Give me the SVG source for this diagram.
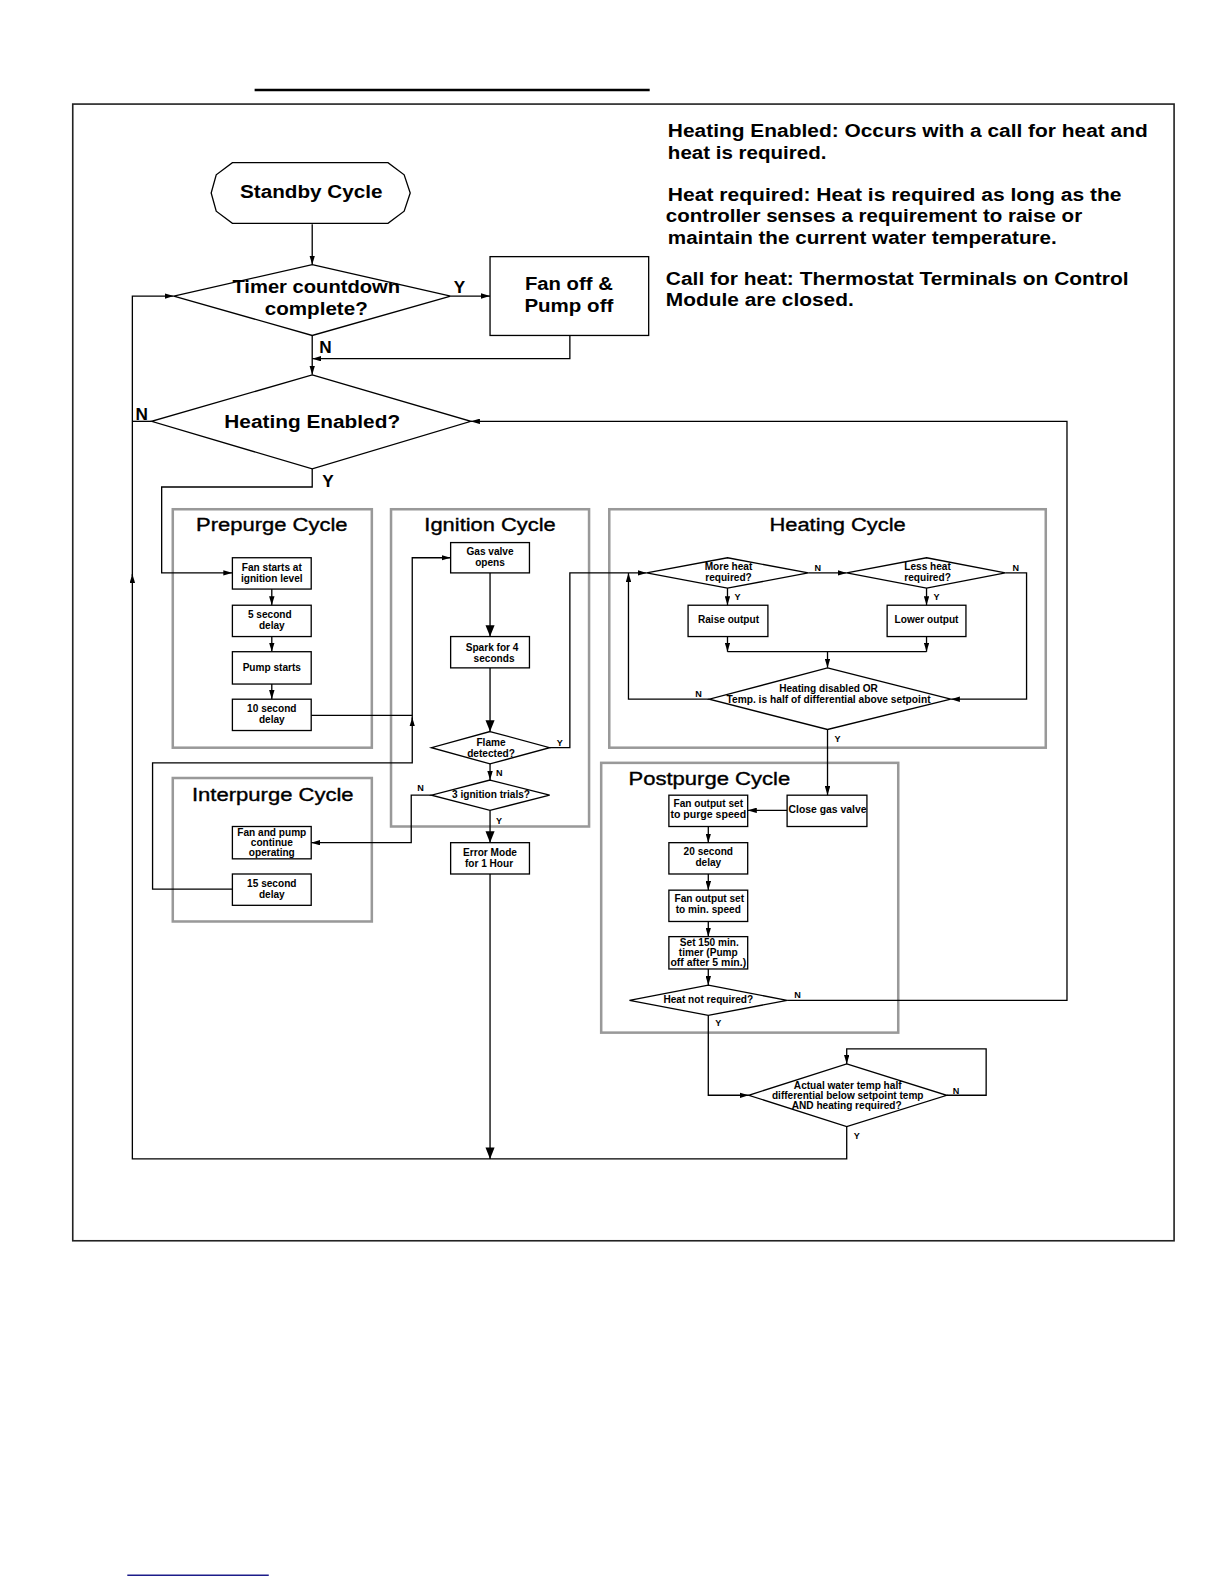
<svg xmlns="http://www.w3.org/2000/svg" width="1224" height="1584" viewBox="0 0 1224 1584">
<defs>
<marker id="a" viewBox="0 0 10 6" refX="10" refY="3" markerWidth="9" markerHeight="5.5" markerUnits="userSpaceOnUse" orient="auto"><path d="M0,0 L10,3 L0,6 z" fill="#000"/></marker>
<marker id="b" viewBox="0 0 10 8" refX="10" refY="4" markerWidth="13" markerHeight="9" markerUnits="userSpaceOnUse" orient="auto"><path d="M0,0 L10,4 L0,8 z" fill="#000"/></marker>
</defs>
<style>
text{font-family:"Liberation Sans",Arial,sans-serif;font-weight:bold;fill:#000}
.big{font-size:18px;text-anchor:middle}
.title{font-size:18px;font-weight:normal;text-anchor:middle;stroke:#000;stroke-width:0.35}
.note{font-size:18px}
.s{font-size:10px;text-anchor:middle}
.lbl{font-size:17px}
.sl{font-size:9px}
.node{fill:#fff;stroke:#000;stroke-width:1.3}
.grp{fill:none;stroke:#999;stroke-width:2.5}
.c{fill:none;stroke:#000;stroke-width:1.3}
</style>
<rect width="1224" height="1584" fill="#fff"/>
<g transform="scale(1.0104)">
<line x1="252" y1="89" x2="643" y2="89" stroke="#000" stroke-width="2.5"/>
<rect x="72" y="103" width="1090" height="1125" fill="none" stroke="#222" stroke-width="1.6"/>
<line x1="126" y1="1559" x2="266" y2="1559" stroke="#1c1c8a" stroke-width="1.6"/>

<g id="notes">
<text class="note" x="661" y="136" textLength="475" lengthAdjust="spacingAndGlyphs">Heating Enabled:  Occurs with a call for heat and</text>
<text class="note" x="661" y="157" textLength="157" lengthAdjust="spacingAndGlyphs">heat is required.</text>
<text class="note" x="661" y="199" textLength="449" lengthAdjust="spacingAndGlyphs">Heat required:  Heat is required as long as the</text>
<text class="note" x="659" y="220" textLength="412" lengthAdjust="spacingAndGlyphs">controller senses a requirement to raise or</text>
<text class="note" x="661" y="241" textLength="385" lengthAdjust="spacingAndGlyphs">maintain the current water temperature.</text>
<text class="note" x="659" y="282" textLength="458" lengthAdjust="spacingAndGlyphs">Call for heat:  Thermostat Terminals on Control</text>
<text class="note" x="659" y="303" textLength="186" lengthAdjust="spacingAndGlyphs">Module are closed.</text>
</g>

<g id="groups">
<rect class="grp" x="171" y="504" width="197" height="236"/>
<text class="title" x="269" y="526" textLength="150" lengthAdjust="spacingAndGlyphs">Prepurge Cycle</text>
<rect class="grp" x="171" y="770" width="197" height="142"/>
<text class="title" x="270" y="793" textLength="160" lengthAdjust="spacingAndGlyphs">Interpurge Cycle</text>
<rect class="grp" x="387" y="504" width="196" height="314"/>
<text class="title" x="485" y="526" textLength="130" lengthAdjust="spacingAndGlyphs">Ignition Cycle</text>
<rect class="grp" x="603" y="504" width="432" height="236"/>
<text class="title" x="829" y="526" textLength="135" lengthAdjust="spacingAndGlyphs">Heating Cycle</text>
<rect class="grp" x="595" y="755" width="294" height="267"/>
<text class="title" x="702" y="777" textLength="160" lengthAdjust="spacingAndGlyphs">Postpurge Cycle</text>
</g>

<g id="connectors">
<path class="c" d="M309,222 V262" marker-end="url(#a)"/>
<path class="c" d="M446,293 H485" marker-end="url(#a)"/>
<path class="c" d="M564,332 V355 H309" marker-end="url(#a)"/>
<path class="c" d="M309,332 V371" marker-end="url(#a)"/>
<path class="c" d="M838,1115 V1147 H131 V568" marker-end="url(#a)"/>
<path class="c" d="M131,570 V293 H172" marker-end="url(#a)"/>
<path class="c" d="M150,417 H131"/>
<path class="c" d="M309,464 V482 H160 V567 H230" marker-end="url(#a)"/>
<path class="c" d="M269,583 V599" marker-end="url(#a)"/>
<path class="c" d="M269,630 V645" marker-end="url(#a)"/>
<path class="c" d="M269,677 V692" marker-end="url(#a)"/>
<path class="c" d="M308,708 H408"/>
<path class="c" d="M230,880 H151 V755 H408 V710" marker-end="url(#a)"/>
<path class="c" d="M408,712 V552 H446" marker-end="url(#a)"/>
<path class="c" d="M485,567 V630" marker-end="url(#b)"/>
<path class="c" d="M485,661 V724" marker-end="url(#b)"/>
<path class="c" d="M544,740 H564 V567 H640" marker-end="url(#a)"/>
<path class="c" d="M702,692 H622 V567" marker-end="url(#a)"/>
<path class="c" d="M485,756 V772" marker-end="url(#a)"/>
<path class="c" d="M427,787 H407 V834 H308" marker-end="url(#a)"/>
<path class="c" d="M485,802 V834" marker-end="url(#b)"/>
<path class="c" d="M485,865 V1147" marker-end="url(#b)"/>
<path class="c" d="M800,567 H838" marker-end="url(#a)"/>
<path class="c" d="M720,582 V599" marker-end="url(#a)"/>
<path class="c" d="M917,582 V599" marker-end="url(#a)"/>
<path class="c" d="M995,567 H1016 V692 H941" marker-end="url(#a)"/>
<path class="c" d="M720,630 V645" marker-end="url(#a)"/>
<path class="c" d="M917,630 V645" marker-end="url(#a)"/>
<path class="c" d="M720,645 H917"/>
<path class="c" d="M819,645 V661" marker-end="url(#a)"/>
<path class="c" d="M819,722 V787" marker-end="url(#a)"/>
<path class="c" d="M779,802 H740" marker-end="url(#a)"/>
<path class="c" d="M701,818 V834" marker-end="url(#a)"/>
<path class="c" d="M701,865 V881" marker-end="url(#a)"/>
<path class="c" d="M701,912 V927" marker-end="url(#a)"/>
<path class="c" d="M701,959 V975" marker-end="url(#a)"/>
<path class="c" d="M779,990 H1056 V417 H466" marker-end="url(#a)"/>
<path class="c" d="M701,1005 V1084 H741" marker-end="url(#a)"/>
<path class="c" d="M937,1084 H976 V1038 H838 V1053" marker-end="url(#a)"/>
<text class="lbl" x="449" y="290">Y</text>
<text class="lbl" x="316" y="349">N</text>
<text class="lbl" x="134" y="416">N</text>
<text class="lbl" x="319" y="482">Y</text>
<text class="sl" x="806" y="565">N</text>
<text class="sl" x="1002" y="565">N</text>
<text class="sl" x="727" y="594">Y</text>
<text class="sl" x="924" y="594">Y</text>
<text class="sl" x="688" y="690">N</text>
<text class="sl" x="826" y="734">Y</text>
<text class="sl" x="551" y="738">Y</text>
<text class="sl" x="491" y="768">N</text>
<text class="sl" x="413" y="783">N</text>
<text class="sl" x="491" y="816">Y</text>
<text class="sl" x="786" y="988">N</text>
<text class="sl" x="708" y="1015">Y</text>
<text class="sl" x="943" y="1083">N</text>
<text class="sl" x="845" y="1127">Y</text>
</g>

<g id="standby">
<path class="node" d="M230,161 L384,161 L400,173 L406,191 L400,209 L384,221 L230,221 L214,209 L209,191 L214,173 Z"/>
<text class="big" x="308" y="196" textLength="141" lengthAdjust="spacingAndGlyphs">Standby Cycle</text>
</g>
<g id="timer">
<polygon class="node" points="309,262 446,293 309,332 172,293"/>
<text class="big" x="313" y="290" textLength="166" lengthAdjust="spacingAndGlyphs">Timer countdown</text>
<text class="big" x="313" y="312" textLength="102" lengthAdjust="spacingAndGlyphs">complete?</text>
</g>
<g id="fanoff">
<rect class="node" x="485" y="254" width="157" height="78"/>
<text class="big" x="563" y="287" textLength="87" lengthAdjust="spacingAndGlyphs">Fan off &amp;</text>
<text class="big" x="563" y="309" textLength="88" lengthAdjust="spacingAndGlyphs">Pump off</text>
</g>
<g id="heatingEnabled">
<polygon class="node" points="309,371 466,417 309,464 150,417"/>
<text class="big" x="309" y="424" textLength="174" lengthAdjust="spacingAndGlyphs">Heating Enabled?</text>
</g>

<g id="fanstart"><rect class="node" x="230" y="552" width="78" height="31"/>
<text class="s" x="269" y="565">Fan starts at</text><text class="s" x="269" y="576">ignition level</text></g>
<g id="delay5"><rect class="node" x="230" y="599" width="78" height="31"/>
<text class="s" x="267" y="612">5 second</text><text class="s" x="269" y="623">delay</text></g>
<g id="pumpstart"><rect class="node" x="230" y="645" width="78" height="32"/>
<text class="s" x="269" y="664">Pump starts</text></g>
<g id="delay10"><rect class="node" x="230" y="692" width="78" height="31"/>
<text class="s" x="269" y="705">10 second</text><text class="s" x="269" y="716">delay</text></g>

<g id="fanpump"><rect class="node" x="230" y="818" width="78" height="32"/>
<text class="s" x="269" y="827">Fan and pump</text><text class="s" x="269" y="837">continue</text><text class="s" x="269" y="847">operating</text></g>
<g id="delay15"><rect class="node" x="230" y="865" width="78" height="31"/>
<text class="s" x="269" y="878">15 second</text><text class="s" x="269" y="889">delay</text></g>

<g id="gasvalve"><rect class="node" x="446" y="537" width="78" height="30"/>
<text class="s" x="485" y="549">Gas valve</text><text class="s" x="485" y="560">opens</text></g>
<g id="spark"><rect class="node" x="446" y="630" width="78" height="31"/>
<text class="s" x="487" y="644">Spark for 4</text><text class="s" x="489" y="655">seconds</text></g>
<g id="flame"><polygon class="node" points="485,724 544,740 485,756 427,740"/>
<text class="s" x="486" y="738">Flame</text><text class="s" x="486" y="749">detected?</text></g>
<g id="trials"><polygon class="node" points="485,772 544,787 485,802 427,787"/>
<text class="s" x="486" y="790">3 ignition trials?</text></g>
<g id="error"><rect class="node" x="446" y="834" width="78" height="31"/>
<text class="s" x="485" y="847">Error Mode</text><text class="s" x="484" y="858">for 1 Hour</text></g>

<g id="moreheat"><polygon class="node" points="720,552 800,567 720,582 640,567"/>
<text class="s" x="721" y="564">More heat</text><text class="s" x="721" y="575">required?</text></g>
<g id="lessheat"><polygon class="node" points="917,552 995,567 917,582 838,567"/>
<text class="s" x="918" y="564">Less heat</text><text class="s" x="918" y="575">required?</text></g>
<g id="raise"><rect class="node" x="681" y="599" width="79" height="31"/>
<text class="s" x="721" y="617">Raise output</text></g>
<g id="lower"><rect class="node" x="878" y="599" width="78" height="31"/>
<text class="s" x="917" y="617">Lower output</text></g>
<g id="disabled"><polygon class="node" points="819,661 941,692 819,722 702,692"/>
<text class="s" x="820" y="685">Heating disabled OR</text><text class="s" x="820" y="696" textLength="202" lengthAdjust="spacingAndGlyphs">Temp. is half of differential above setpoint</text></g>

<g id="closegas"><rect class="node" x="779" y="787" width="79" height="31"/>
<text class="s" x="819" y="805" textLength="77" lengthAdjust="spacingAndGlyphs">Close gas valve</text></g>
<g id="purgespeed"><rect class="node" x="662" y="787" width="78" height="31"/>
<text class="s" x="701" y="799">Fan output set</text><text class="s" x="701" y="810" textLength="75" lengthAdjust="spacingAndGlyphs">to purge speed</text></g>
<g id="delay20"><rect class="node" x="662" y="834" width="78" height="31"/>
<text class="s" x="701" y="846">20 second</text><text class="s" x="701" y="857">delay</text></g>
<g id="minspeed"><rect class="node" x="662" y="881" width="78" height="31"/>
<text class="s" x="702" y="893">Fan output set</text><text class="s" x="701" y="904">to min. speed</text></g>
<g id="timer150"><rect class="node" x="662" y="927" width="78" height="32"/>
<text class="s" x="702" y="936">Set 150 min.</text><text class="s" x="701" y="946">timer (Pump</text><text class="s" x="701" y="956" textLength="75" lengthAdjust="spacingAndGlyphs">off after 5 min.)</text></g>
<g id="heatnotreq"><polygon class="node" points="701,975 779,990 701,1005 623,990"/>
<text class="s" x="701" y="993">Heat not required?</text></g>
<g id="actual"><polygon class="node" points="838,1053 937,1084 838,1115 741,1084"/>
<text class="s" x="839" y="1078">Actual water temp half</text><text class="s" x="839" y="1088" textLength="150" lengthAdjust="spacingAndGlyphs">differential below setpoint temp</text><text class="s" x="838" y="1098">AND heating required?</text></g>
</g>
</svg>
